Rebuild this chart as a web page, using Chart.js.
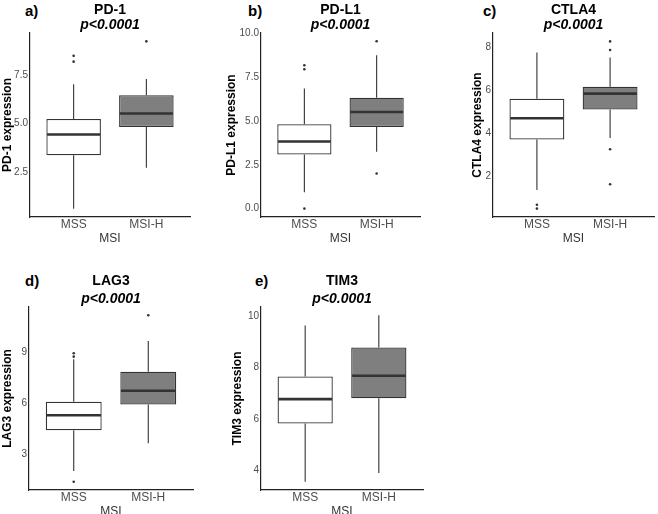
<!DOCTYPE html>
<html>
<head>
<meta charset="utf-8">
<script src="https://cdn.jsdelivr.net/npm/chart.js@4.4.1/dist/chart.umd.min.js"></script>
<style>
  html, body { margin: 0; padding: 0; background: #fff; width: 658px; height: 514px; overflow: hidden; }
  canvas { position: absolute; }
  .tag { position: absolute; font: bold 15px "Liberation Sans", Arial, sans-serif; color: #000; line-height: 15px; }
</style>
</head>
<body>
<div class="tag" style="left:25px;top:3px">a)</div>
<div class="tag" style="left:248px;top:3px">b)</div>
<div class="tag" style="left:483px;top:3px">c)</div>
<div class="tag" style="left:25px;top:273px">d)</div>
<div class="tag" style="left:255px;top:273px">e)</div>

<canvas id="pd1" width="200" height="250" style="left:0;top:0"></canvas>
<canvas id="pdl1" width="206" height="250" style="left:224px;top:0"></canvas>
<canvas id="ctla4" width="188" height="250" style="left:470px;top:0"></canvas>
<canvas id="lag3" width="203" height="249" style="left:0;top:274px"></canvas>
<canvas id="tim3" width="203" height="249" style="left:230px;top:274px"></canvas>

<script>
var categories = ['MSS', 'MSI-H'];

// box stats per group: [MSS, MSI-H]
var pd1Low = [0.61, 2.72];
var pd1Q1 = [3.37, 4.83];
var pd1Median = [4.44, 5.52];
var pd1Q3 = [5.24, 6.47];
var pd1High = [7.03, 7.3];
var pd1OutMSS = [8.2, 8.5];
var pd1OutMSIH = [9.25];

var pdl1Low = [0.93, 3.24];
var pdl1Q1 = [3.09, 4.65];
var pdl1Median = [3.83, 5.51];
var pdl1Q3 = [4.81, 6.33];
var pdl1High = [6.85, 8.75];
var pdl1OutMSS = [0.0, 7.95, 8.18];
var pdl1OutMSIH = [2.0, 9.55];

var ctla4Low = [1.36, 3.77];
var ctla4Q1 = [3.70, 5.09];
var ctla4Median = [4.69, 5.83];
var ctla4Q3 = [5.59, 6.15];
var ctla4High = [7.74, 7.51];
var ctla4OutMSS = [0.5, 0.68];
var ctla4OutMSIH = [1.63, 3.25, 7.85, 8.25];

var lag3Low = [2.0, 3.64];
var lag3Q1 = [4.41, 5.92];
var lag3Median = [5.29, 6.74];
var lag3Q3 = [6.09, 7.86];
var lag3High = [8.6, 9.68];
var lag3OutMSS = [1.37, 8.75, 8.95];
var lag3OutMSIH = [11.19];

var tim3Low = [3.57, 3.91];
var tim3Q1 = [5.83, 6.81];
var tim3Median = [6.78, 7.69];
var tim3Q3 = [7.66, 8.79];
var tim3High = [9.64, 10.04];
var tim3OutMSS = [];
var tim3OutMSIH = [];

// y tick values and labels
var pd1Ticks = [2.5, 5, 7.5];
var pd1TickLabels = ['2.5', '5.0', '7.5'];
var pdl1Ticks = [0, 2.5, 5, 7.5, 10];
var pdl1TickLabels = ['0.0', '2.5', '5.0', '7.5', '10.0'];
var ctla4Ticks = [2, 4, 6, 8];
var ctla4TickLabels = ['2', '4', '6', '8'];
var lag3Ticks = [3, 6, 9];
var lag3TickLabels = ['3', '6', '9'];
var tim3Ticks = [4, 6, 8, 10];
var tim3TickLabels = ['4', '6', '8', '10'];

var FONT = '"Liberation Sans", Arial, sans-serif';
var DARK = '#333333';

var medianPlugin = {
  id: 'medianLines',
  afterDatasetsDraw: function(chart, args, opts) {
    var meta = chart.getDatasetMeta(0);
    var y = chart.scales.y;
    var ctx = chart.ctx;
    ctx.save();
    ctx.strokeStyle = DARK;
    ctx.lineWidth = 2.6;
    meta.data.forEach(function(bar, i) {
      var py = y.getPixelForValue(opts.values[i]);
      ctx.beginPath();
      ctx.moveTo(bar.x - bar.width / 2 + 0.7, py);
      ctx.lineTo(bar.x + bar.width / 2 - 0.7, py);
      ctx.stroke();
    });
    ctx.restore();
  }
};

function makePanel(id, p) {
  var boxes = categories.map(function(c, i) { return { x: i + 1, y: [p.q1[i], p.q3[i]] }; });
  var whiskers = [];
  categories.forEach(function(c, i) {
    whiskers.push({ x: i + 1, y: p.low[i] }, { x: i + 1, y: p.q1[i] }, { x: i + 1, y: null });
    whiskers.push({ x: i + 1, y: p.q3[i] }, { x: i + 1, y: p.high[i] }, { x: i + 1, y: null });
  });
  var outliers = p.outMSS.map(function(v) { return { x: 1, y: v }; })
    .concat(p.outMSIH.map(function(v) { return { x: 2, y: v }; }));

  return new Chart(document.getElementById(id), {
    type: 'bar',
    data: {
      datasets: [{
        type: 'bar',
        data: boxes,
        backgroundColor: ['#ffffff', '#7f7f7f'],
        borderColor: DARK,
        borderWidth: 1.3,
        borderSkipped: false,
        barPercentage: 0.75,
        categoryPercentage: 1
      }, {
        type: 'line',
        data: whiskers,
        borderColor: DARK,
        borderWidth: 1.1,
        pointRadius: 0,
        spanGaps: false,
        fill: false
      }, {
        type: 'scatter',
        data: outliers,
        pointRadius: 1.3,
        pointBackgroundColor: DARK,
        pointBorderWidth: 0
      }]
    },
    options: {
      responsive: false,
      animation: false,
      layout: { padding: { left: 0, right: p.rightPad, top: 0, bottom: 0 } },
      plugins: {
        legend: { display: false },
        tooltip: { enabled: false },
        title: {
          display: true, text: p.title, fullSize: false, color: '#000',
          font: { family: FONT, size: 14, weight: 'bold', lineHeight: 1 },
          padding: { top: p.titleTop, bottom: 0 }
        },
        subtitle: {
          display: true, text: 'p<0.0001', fullSize: false, color: '#000',
          font: { family: FONT, size: 14, weight: 'bold', style: 'italic', lineHeight: 1 },
          padding: { top: p.subTop, bottom: p.subBottom }
        },
        medianLines: { values: p.median }
      },
      scales: {
        x: {
          type: 'linear', min: 0.4, max: 2.6, offset: false,
          afterBuildTicks: function(s) { s.ticks = categories.map(function(c, i) { return { value: i + 1 }; }); },
          afterFit: function(s) { s.height = 33; },
          ticks: {
            callback: function(v) { return categories[v - 1]; },
            color: '#4d4d4d', font: { family: FONT, size: 12 }, padding: 0,
            autoSkip: false, maxRotation: 0
          },
          grid: { display: false, drawTicks: false },
          border: { display: true, color: '#222', width: 1.2 },
          title: { display: true, text: 'MSI', color: '#333', font: { family: FONT, size: 12 }, padding: { top: 0, bottom: 4 } }
        },
        y: {
          min: p.min, max: p.max, beginAtZero: false,
          afterBuildTicks: function(s) { s.ticks = p.ticks.map(function(v) { return { value: v }; }); },
          afterFit: function(s) { s.width = p.yw; },
          ticks: {
            callback: function(v, i) { return p.tickLabels[i]; },
            color: '#4d4d4d', font: { family: FONT, size: 10 }, padding: 2
          },
          grid: { display: false, drawTicks: false },
          border: { display: true, color: '#222', width: 1.2 },
          title: { display: true, text: p.yTitle, color: '#000', font: { family: FONT, size: 12, weight: 'bold' }, padding: { top: 0, bottom: 0 } }
        }
      }
    },
    plugins: [medianPlugin]
  });
}

var topRow = { titleTop: 3.5, subTop: 0.5, subBottom: 1 };
var bottomRow = { titleTop: 0, subTop: 4.5, subBottom: 0.5 };

makePanel('pd1', Object.assign({
  title: 'PD-1', yTitle: 'PD-1 expression', yw: 30, rightPad: 10, min: 0.18, max: 9.68,
  low: pd1Low, q1: pd1Q1, median: pd1Median, q3: pd1Q3, high: pd1High,
  outMSS: pd1OutMSS, outMSIH: pd1OutMSIH, ticks: pd1Ticks, tickLabels: pd1TickLabels
}, topRow));

makePanel('pdl1', Object.assign({
  title: 'PD-L1', yTitle: 'PD-L1 expression', yw: 37, rightPad: 10, min: -0.48, max: 10.02,
  low: pdl1Low, q1: pdl1Q1, median: pdl1Median, q3: pdl1Q3, high: pdl1High,
  outMSS: pdl1OutMSS, outMSIH: pdl1OutMSIH, ticks: pdl1Ticks, tickLabels: pdl1TickLabels
}, topRow));

makePanel('ctla4', Object.assign({
  title: 'CTLA4', yTitle: 'CTLA4 expression', yw: 23, rightPad: 0, min: 0.11, max: 8.64,
  low: ctla4Low, q1: ctla4Q1, median: ctla4Median, q3: ctla4Q3, high: ctla4High,
  outMSS: ctla4OutMSS, outMSIH: ctla4OutMSIH, ticks: ctla4Ticks, tickLabels: ctla4TickLabels
}, topRow));

makePanel('lag3', Object.assign({
  title: 'LAG3', yTitle: 'LAG3 expression', yw: 29, rightPad: 10, min: 0.88, max: 11.68,
  low: lag3Low, q1: lag3Q1, median: lag3Median, q3: lag3Q3, high: lag3High,
  outMSS: lag3OutMSS, outMSIH: lag3OutMSIH, ticks: lag3Ticks, tickLabels: lag3TickLabels
}, bottomRow));

makePanel('tim3', Object.assign({
  title: 'TIM3', yTitle: 'TIM3 expression', yw: 31, rightPad: 10, min: 3.25, max: 10.36,
  low: tim3Low, q1: tim3Q1, median: tim3Median, q3: tim3Q3, high: tim3High,
  outMSS: tim3OutMSS, outMSIH: tim3OutMSIH, ticks: tim3Ticks, tickLabels: tim3TickLabels
}, bottomRow));
</script>
</body>
</html>
